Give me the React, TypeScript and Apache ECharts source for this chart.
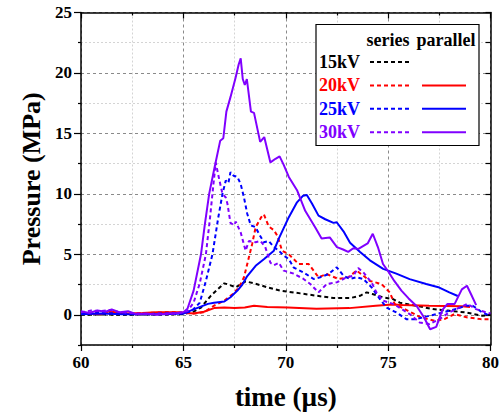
import React, { useEffect, useRef } from "react";
import * as echarts from "echarts";

// ---------- data (time in µs, pressure in MPa) ----------
const yMajorTicks = [0, 5, 10, 15, 20, 25];
const yMinorTicks = [-2.5, 2.5, 7.5, 12.5, 17.5, 22.5];

const kv15Series: number[][] = [
  [60, 0.0], [61, 0.02], [62, 0.0], [63, 0.02], [64, 0.02], [65.0, 0.05], [65.5, 0.25], [65.86, 0.6],
  [66.34, 1.57], [66.67, 2.1], [67.0, 2.6], [67.2, 2.5], [67.56, 2.27], [68.04, 2.76], [68.45, 2.6],
  [69.1, 2.27], [69.74, 2.0], [70.15, 1.9], [70.71, 1.77], [71.52, 1.57], [72.33, 1.38], [73.14, 1.38],
  [73.63, 1.57], [73.95, 1.85], [74.27, 1.7], [74.76, 1.44], [75.24, 1.3], [75.57, 1.0], [76.37, 0.75],
  [77.18, 0.47], [77.99, 0.33], [78.8, 0.19], [79.6, -0.08], [80, 0.0],
];

const kv20Series: number[][] = [
  [60, 0.1], [60.6, 0.2], [61.2, 0.25], [61.8, 0.1], [62.5, 0.1], [63.2, 0.15], [64, 0.2], [64.6, 0.2],
  [65, 0.15], [65.5, 0.1], [66.0, 0.2], [66.5, 0.75], [67.0, 1.16], [67.4, 1.7], [67.72, 2.27],
  [67.96, 3.1], [68.2, 4.75], [68.36, 5.86], [68.53, 7.24], [68.8, 8.07], [68.93, 8.3], [69.17, 7.3],
  [69.42, 7.0], [69.6, 6.5], [69.82, 5.3], [70.15, 5.0], [70.63, 4.2], [71.12, 4.2], [71.6, 3.1],
  [72.0, 3.37], [72.57, 2.96], [73.06, 3.1], [73.46, 3.65], [73.79, 3.23], [74.11, 2.8], [74.68, 2.54],
  [75.08, 1.85], [75.32, 0.9], [75.97, 0.33], [76.6, -0.22], [77.27, -0.5], [77.75, -0.36], [78.24, 0.06],
  [78.88, -0.22], [79.53, -0.36], [80, -0.36],
];

const kv20Parallel: number[][] = [
  [60, 0.1], [61, 0.05], [61.4, 0.3], [62, 0.1], [63, 0.15], [63.7, 0.2], [64.8, 0.2], [65.5, 0.1],
  [66.0, 0.25], [66.5, 0.55], [67.0, 0.6], [67.5, 0.55], [68.0, 0.6], [68.45, 0.75], [69.1, 0.65],
  [70.1, 0.6], [71.5, 0.5], [73.1, 0.55], [74.4, 0.75], [75.2, 0.85], [75.7, 0.8], [77.0, 0.75],
  [78.6, 0.7], [79.0, 0.65],
];

const kv25Series: number[][] = [
  [60, 0.1], [61, 0.15], [62, 0.1], [63, 0.05], [64, 0.1], [65.0, 0.1], [65.4, 0.3], [65.8, 1.0],
  [66.1, 2.8], [66.42, 5.0], [66.7, 8.0], [66.91, 10.0], [67.07, 11.1], [67.2, 10.9], [67.3, 11.8],
  [67.45, 11.5], [67.64, 11.4], [67.8, 10.8], [67.96, 9.7], [68.12, 8.35], [68.29, 7.4], [68.53, 7.24],
  [68.69, 6.7], [68.93, 6.0], [69.17, 6.1], [69.42, 5.6], [69.66, 5.3], [69.9, 4.9], [70.15, 4.6],
  [70.39, 3.9], [70.87, 3.5], [71.36, 2.96], [71.68, 3.1], [72.09, 3.37], [72.49, 3.93], [72.82, 3.23],
  [73.14, 2.96], [73.46, 3.1], [73.79, 2.96], [74.19, 2.27], [74.6, 1.3], [74.92, 0.6], [75.24, 0.33],
  [75.4, 0.19], [75.89, -0.36], [76.37, -0.36], [77.02, -0.08], [77.67, 0.19], [78.32, 0.47],
  [78.8, 0.75], [79.13, 0.75], [79.6, 0.19], [80, -0.1],
];

const kv25Parallel: number[][] = [
  [60, 0.05], [61, 0.1], [62, 0.05], [63, 0.05], [64, 0.05], [65.0, 0.1], [65.5, 0.45], [66.2, 0.9],
  [66.5, 1.0], [67.0, 1.1], [67.3, 1.45], [67.64, 2.0], [67.88, 2.5], [68.12, 3.2], [68.53, 4.05],
  [68.93, 4.6], [69.42, 5.3], [69.66, 6.3], [70.15, 8.07], [70.55, 9.3], [70.85, 9.85], [71.03, 9.9],
  [71.28, 9.2], [71.6, 8.2], [71.93, 7.9], [72.33, 7.6], [72.49, 7.65], [72.82, 6.9], [73.14, 5.95],
  [73.63, 5.2], [74.11, 4.5], [74.76, 3.8], [75.4, 3.4], [76.05, 2.95], [76.86, 2.55], [77.5, 2.25],
  [77.99, 1.85], [78.4, 1.55],
];

const kv30Series: number[][] = [
  [60, 0.2], [60.5, 0.35], [61, 0.3], [61.4, 0.4], [61.8, 0.25], [62.3, 0.15], [62.8, 0.1], [63.3, 0.05],
  [63.8, 0.1], [64.3, 0.05], [64.8, 0.15], [65.2, 0.3], [65.5, 1.0], [65.8, 2.6], [66.1, 5.0],
  [66.3, 8.0], [66.42, 10.0], [66.58, 12.6], [66.75, 11.2], [66.91, 10.0], [67.07, 9.7], [67.15, 9.2],
  [67.3, 7.6], [67.48, 7.4], [67.56, 7.7], [67.8, 6.8], [68.04, 5.3], [68.2, 6.1], [68.53, 6.0],
  [68.77, 6.1], [69.0, 5.6], [69.25, 4.3], [69.42, 4.1], [69.66, 4.3], [69.9, 3.65], [70.39, 3.4],
  [70.87, 2.96], [71.2, 2.54], [71.6, 1.85], [72.0, 2.54], [72.49, 2.68], [72.98, 3.1], [73.3, 3.23],
  [73.54, 3.87], [73.79, 3.5], [74.19, 2.68], [74.43, 1.85], [74.76, 1.16], [75.24, 0.9], [75.4, 0.75],
  [76.05, 0.06], [76.54, -0.64], [77.02, -0.77], [77.5, -0.36], [77.99, 0.19], [78.48, 0.6],
  [78.88, 0.9], [79.29, 0.47], [79.78, 0.2], [80, 0.1],
];

const kv30Parallel: number[][] = [
  [60, 0.3], [60.4, 0.15], [60.8, 0.35], [61.2, 0.25], [61.5, 0.45], [61.9, 0.2], [62.3, 0.3],
  [62.7, 0.05], [63.2, 0.1], [63.7, 0.0], [64.2, 0.1], [64.7, 0.15], [65.0, 0.2], [65.2, 0.5],
  [65.5, 2.0], [65.86, 5.0], [66.05, 7.5], [66.26, 10.0], [66.5, 12.0], [66.8, 14.4], [66.95, 14.6],
  [67.1, 16.8], [67.3, 18.0], [67.55, 19.6], [67.7, 20.7], [67.8, 21.2], [67.9, 19.5], [68.0, 19.0],
  [68.1, 19.5], [68.3, 16.8], [68.45, 16.7], [68.75, 14.3], [68.95, 14.7], [69.25, 12.6], [69.5, 12.9],
  [69.7, 13.1], [69.9, 12.4], [70.15, 11.4], [70.55, 10.3], [70.95, 8.6], [71.2, 7.9], [71.45, 7.2],
  [71.75, 6.3], [72.15, 6.4], [72.5, 5.6], [72.8, 5.4], [73.05, 5.2], [73.3, 5.5], [73.55, 5.45],
  [74.0, 5.9], [74.25, 6.7], [74.5, 5.6], [74.75, 4.2], [75.0, 3.6], [75.3, 2.8], [75.65, 2.0],
  [76.0, 1.35], [76.4, 0.7], [76.75, -0.2], [77.05, -1.2], [77.35, -1.0], [77.65, 0.4], [77.9, 0.9],
  [78.25, 0.9], [78.6, 2.1], [78.85, 2.4], [79.05, 1.7], [79.3, 0.8],
];

const legendLabels = ["15kV", "20kV", "25kV", "30kV"];
const legendColors = ["#000000", "#ff0000", "#0000ff", "#8000ff"];
const legendHasParallel = [false, true, true, true];

const FONT = '"Liberation Serif", "Times New Roman", serif';
const DASH = [4, 3];

export default function App() {
  const ref = useRef<HTMLDivElement>(null);

  useEffect(() => {
    if (!ref.current) return;
    const chart = echarts.init(ref.current, null, { renderer: "svg" });

    const mk = (name: string, data: number[][], color: string, dashed: boolean) => ({
      name,
      type: "line",
      data,
      showSymbol: false,
      symbol: "none",
      xAxisIndex: 0,
      yAxisIndex: 0,
      lineStyle: { color, width: 2, type: dashed ? DASH : "solid" },
    });

    const legendGraphics: any[] = [
      {
        type: "rect",
        shape: { x: 316, y: 24.5, width: 163, height: 121 },
        style: { fill: "#ffffff", stroke: "#000000", lineWidth: 1.2 },
        z: 100,
      },
      {
        type: "text",
        x: 388,
        y: 40,
        z: 101,
        style: { text: "series", fill: "#000", font: `bold 18px ${FONT}`, align: "center", verticalAlign: "middle" },
      },
      {
        type: "text",
        x: 446,
        y: 40,
        z: 101,
        style: { text: "parallel", fill: "#000", font: `bold 18px ${FONT}`, align: "center", verticalAlign: "middle" },
      },
    ];
    legendLabels.forEach((lab, i) => {
      const y = 62 + i * 23.4;
      legendGraphics.push({
        type: "text",
        x: 319,
        y,
        z: 101,
        style: { text: lab, fill: legendColors[i], font: `bold 18px ${FONT}`, align: "left", verticalAlign: "middle" },
      });
      legendGraphics.push({
        type: "line",
        z: 101,
        shape: { x1: 370, y1: y, x2: 410, y2: y },
        style: { stroke: legendColors[i], lineWidth: 2, lineDash: DASH },
      });
      if (legendHasParallel[i]) {
        legendGraphics.push({
          type: "line",
          z: 101,
          shape: { x1: 422, y1: y, x2: 466, y2: y },
          style: { stroke: legendColors[i], lineWidth: 2 },
        });
      }
    });

    const axisLineStyle = { color: "#000", width: 1.5 };
    const labelStyle = { color: "#000", fontFamily: FONT, fontWeight: "bold" as const, fontSize: 17 };

    chart.setOption({
      animation: false,
      grid: { left: 81, right: 9, top: 12.5, bottom: 75, containLabel: false },
      xAxis: [
        {
          type: "value",
          min: 60,
          max: 80,
          interval: 5,
          position: "bottom",
          name: "time (µs)",
          nameLocation: "middle",
          nameGap: 38,
          nameTextStyle: { color: "#000", fontFamily: FONT, fontWeight: "bold", fontSize: 27 },
          axisLine: { show: true, onZero: false, lineStyle: axisLineStyle },
          axisTick: { show: true, inside: false, length: 6, lineStyle: { color: "#000", width: 1.2 } },
          minorTick: { show: true, splitNumber: 2, length: 3, lineStyle: { color: "#000", width: 1.2 } },
          axisLabel: { ...labelStyle, margin: 9 },
          splitLine: { show: true, lineStyle: { color: "#8a8a8a", width: 1, type: [3, 3] } },
          minorSplitLine: { show: true, lineStyle: { color: "#d4d4d4", width: 1, type: [2, 2] } },
        },
        {
          type: "value",
          min: 60,
          max: 80,
          interval: 5,
          position: "top",
          axisLine: { show: true, onZero: false, lineStyle: axisLineStyle },
          axisTick: { show: true, inside: true, length: 6, lineStyle: { color: "#000", width: 1.2 } },
          minorTick: { show: true, splitNumber: 2, length: 3, lineStyle: { color: "#000", width: 1.2 } },
          axisLabel: { show: false },
          splitLine: { show: false },
        },
      ],
      yAxis: [
        {
          type: "value",
          min: -2.5,
          max: 25,
          position: "left",
          name: "Pressure (MPa)",
          nameLocation: "middle",
          nameGap: 31,
          nameRotate: 90,
          nameTextStyle: { color: "#000", fontFamily: FONT, fontWeight: "bold", fontSize: 26 },
          axisLine: { show: true, onZero: false, lineStyle: axisLineStyle },
          axisTick: { show: true, inside: false, length: 7, customValues: yMajorTicks, lineStyle: { color: "#000", width: 1.2 } },
          axisLabel: { ...labelStyle, margin: 9, customValues: yMajorTicks },
          splitLine: { show: true, lineStyle: { color: "#8a8a8a", width: 1, type: [3, 3] } },
        },
        {
          type: "value",
          min: -2.5,
          max: 25,
          position: "left",
          axisLine: { show: false, onZero: false },
          axisTick: { show: true, inside: false, length: 3, customValues: yMinorTicks, lineStyle: { color: "#000", width: 1.2 } },
          axisLabel: { show: false, customValues: yMinorTicks },
          splitLine: { show: true, lineStyle: { color: "#d4d4d4", width: 1, type: [2, 2] } },
        },
        {
          type: "value",
          min: -2.5,
          max: 25,
          interval: 2.5,
          position: "right",
          axisLine: { show: true, onZero: false, lineStyle: axisLineStyle },
          axisTick: { show: true, inside: true, length: 5, lineStyle: { color: "#000", width: 1.2 } },
          axisLabel: { show: false },
          splitLine: { show: false },
        },
      ],
      series: [
        mk("15kV series", kv15Series, legendColors[0], true),
        mk("20kV series", kv20Series, legendColors[1], true),
        mk("20kV parallel", kv20Parallel, legendColors[1], false),
        mk("25kV series", kv25Series, legendColors[2], true),
        mk("25kV parallel", kv25Parallel, legendColors[2], false),
        mk("30kV series", kv30Series, legendColors[3], true),
        mk("30kV parallel", kv30Parallel, legendColors[3], false),
      ],
      graphic: legendGraphics,
    });

    return () => chart.dispose();
  }, []);

  return (
    <div
      ref={ref}
      style={{ position: "absolute", left: 0, top: 0, width: 502, height: 420, background: "#fff" }}
    />
  );
}
